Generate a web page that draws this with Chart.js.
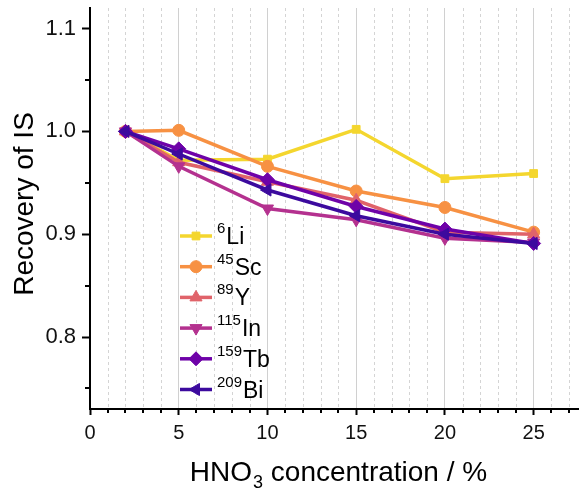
<!DOCTYPE html>
<html><head><meta charset="utf-8">
<script src="https://cdn.jsdelivr.net/npm/chart.js@4/dist/chart.umd.min.js"></script>
<style>html,body{margin:0;padding:0;background:#fff}#wrap{width:586px;height:495px}</style>
</head><body><div id="wrap"><canvas id="c" width="586" height="495"></canvas></div>
<script>
const concentrations = [2, 5, 10, 15, 20, 25];
const li6   = [1.000, 0.972, 0.973, 1.002, 0.954, 0.959];
const sc45  = [1.000, 1.001, 0.966, 0.942, 0.926, 0.902];
const y89   = [1.000, 0.970, 0.951, 0.933, 0.902, 0.900];
const in115 = [1.000, 0.966, 0.925, 0.914, 0.896, 0.892];
const tb159 = [1.000, 0.983, 0.953, 0.927, 0.905, 0.891];
const bi209 = [1.000, 0.978, 0.943, 0.918, 0.900, 0.891];
const isotopeMass = ['6', '45', '89', '115', '159', '209'];
const elementNames = ['Li', 'Sc', 'Y', 'In', 'Tb', 'Bi'];
const xTitle = ['HNO', '3', ' concentration / %'];
const yTitle = 'Recovery of IS';

const colors = ['#F4D62E', '#F79143', '#E0636A', '#B4318F', '#6E02A8', '#3C0A9E'];
const styles = [
  {pointStyle: 'rect', rotation: 0, radius: 5.5},
  {pointStyle: 'circle', rotation: 0, radius: 6},
  {pointStyle: 'triangle', rotation: 0, radius: 7},
  {pointStyle: 'triangle', rotation: 180, radius: 7},
  {pointStyle: 'rectRot', rotation: 0, radius: 7},
  {pointStyle: 'triangle', rotation: -90, radius: 7}
];
const series = [li6, sc45, y89, in115, tb159, bi209];
const FONT = '"Liberation Sans", Arial, sans-serif';

const datasets = series.map((vals, i) => ({
  label: isotopeMass[i] + elementNames[i],
  data: concentrations.map((x, k) => ({x: x, y: vals[k]})),
  borderColor: colors[i],
  backgroundColor: colors[i],
  borderWidth: 3.5,
  pointStyle: styles[i].pointStyle,
  pointRotation: styles[i].rotation,
  pointRadius: styles[i].radius,
  pointBorderWidth: 1,
  order: 5 - i,
  tension: 0
}));

const extras = {
  id: 'extras',
  beforeDatasetsDraw(chart) {
    const ctx = chart.ctx, xs = chart.scales.x, a = chart.chartArea;
    ctx.save();
    ctx.strokeStyle = '#d4d4d4';
    ctx.lineWidth = 1;
    ctx.setLineDash([3, 3]);
    for (let v = 1; v <= 27; v++) {
      if (v % 5 === 0) continue;
      const px = Math.round(xs.getPixelForValue(v)) + 0.5;
      ctx.beginPath(); ctx.moveTo(px, a.top); ctx.lineTo(px, a.bottom); ctx.stroke();
    }
    ctx.restore();
  },
  afterDraw(chart) {
    const ctx = chart.ctx, xs = chart.scales.x, ys = chart.scales.y, a = chart.chartArea;
    ctx.save();
    ctx.strokeStyle = '#000'; ctx.lineWidth = 2; ctx.setLineDash([]);
    for (let v = 1; v <= 27; v++) {
      if (v % 5 === 0) continue;
      const px = Math.round(xs.getPixelForValue(v));
      ctx.beginPath(); ctx.moveTo(px, a.bottom); ctx.lineTo(px, a.bottom + 4); ctx.stroke();
    }
    for (let k = 0; k < 4; k++) {
      const v = 0.75 + k * 0.1;
      const py = Math.round(ys.getPixelForValue(v));
      ctx.beginPath(); ctx.moveTo(a.left, py); ctx.lineTo(a.left - 5, py); ctx.stroke();
    }
    ctx.fillStyle = '#000';
    ctx.font = '28px ' + FONT;
    ctx.textBaseline = 'alphabetic';
    const w1 = ctx.measureText(xTitle[0]).width;
    ctx.font = '18px ' + FONT;
    const w2 = ctx.measureText(xTitle[1]).width;
    ctx.font = '28px ' + FONT;
    const w3 = ctx.measureText(xTitle[2]).width;
    let x0 = 338 - (w1 + w2 + w3) / 2;
    const by = 481;
    ctx.textAlign = 'left';
    ctx.fillText(xTitle[0], x0, by);
    ctx.font = '18px ' + FONT;
    ctx.fillText(xTitle[1], x0 + w1 + 1, by + 7);
    ctx.font = '28px ' + FONT;
    ctx.fillText(xTitle[2], x0 + w1 + w2 + 1, by);
    ctx.save();
    ctx.translate(33, 204);
    ctx.rotate(-Math.PI / 2);
    ctx.textAlign = 'center';
    ctx.fillText(yTitle, 0, 0);
    ctx.restore();
    const lx0 = 180, lx1 = 212, ly0 = 236, dy = 30.7;
    for (let i = 0; i < 6; i++) {
      const y = ly0 + i * dy;
      ctx.strokeStyle = colors[i]; ctx.fillStyle = colors[i]; ctx.lineWidth = 3.5;
      ctx.beginPath(); ctx.moveTo(lx0, y); ctx.lineTo(lx1, y); ctx.stroke();
      ctx.lineWidth = 1;
      Chart.helpers.drawPoint(ctx, {pointStyle: styles[i].pointStyle, rotation: styles[i].rotation, radius: styles[i].radius, borderWidth: 1}, (lx0 + lx1) / 2, y);
      ctx.fillStyle = '#000';
      ctx.textAlign = 'left';
      ctx.font = '15px ' + FONT;
      const sw = ctx.measureText(isotopeMass[i]).width;
      ctx.fillText(isotopeMass[i], 217, y - 3);
      ctx.font = '23px ' + FONT;
      ctx.fillText(elementNames[i], 218 + sw, y + 8);
    }
    ctx.restore();
  }
};

new Chart(document.getElementById('c'), {
  type: 'line',
  data: {datasets},
  options: {
    responsive: false,
    animation: false,
    layout: {padding: {top: 8, right: 0, left: 0, bottom: 0}},
    plugins: {legend: {display: false}, tooltip: {enabled: false}},
    scales: {
      x: {
        type: 'linear', min: 0, max: 27.5,
        afterFit(s) { s.height = 86; s.paddingLeft = 0; s.paddingRight = 0; },
        ticks: {stepSize: 5, includeBounds: false, color: '#111', font: {family: FONT, size: 20}, padding: 6, maxRotation: 0},
        grid: {color: '#d0d0d0', lineWidth: 1, drawTicks: true, tickLength: 6, tickColor: '#000', tickWidth: 2},
        border: {color: '#000', width: 2}
      },
      y: {
        type: 'linear', min: 0.73, max: 1.12,
        afterFit(s) { s.width = 90; s.paddingTop = 0; s.paddingBottom = 0; },
        ticks: {stepSize: 0.1, includeBounds: false, color: '#111', font: {family: FONT, size: 22}, padding: 6,
          callback: v => Number(v).toFixed(1)},
        grid: {drawOnChartArea: false, drawTicks: true, tickLength: 8, tickColor: '#000', tickWidth: 2},
        border: {color: '#000', width: 2}
      }
    }
  },
  plugins: [extras]
});
</script></body></html>
